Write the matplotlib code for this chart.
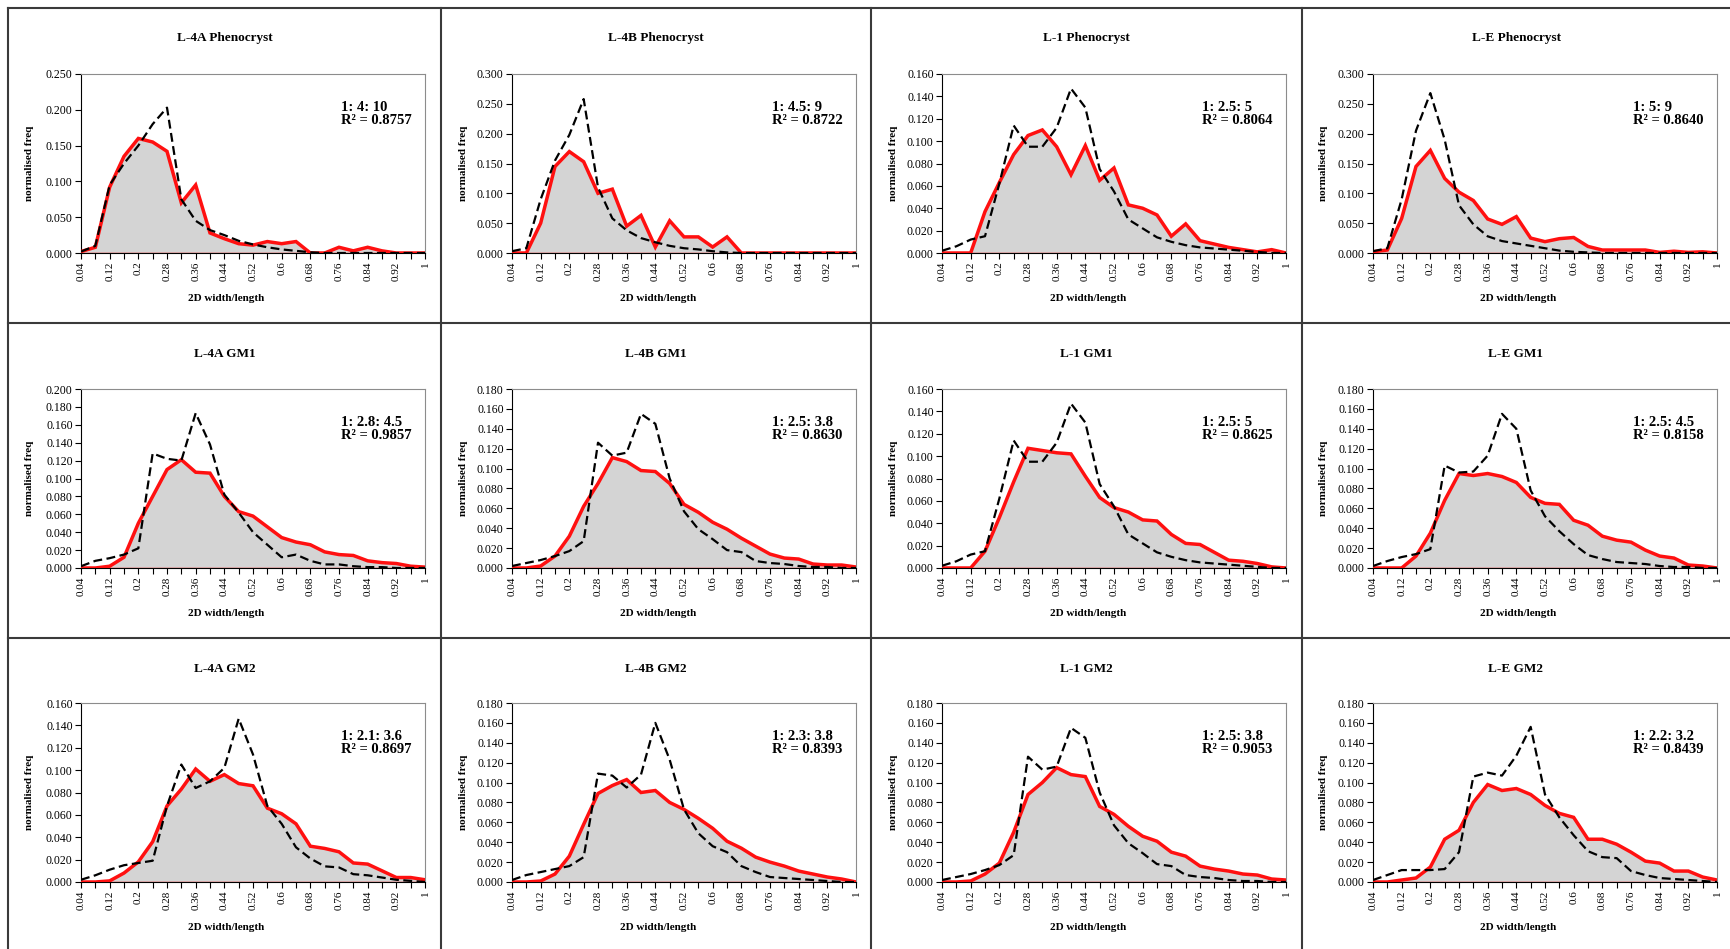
import matplotlib.pyplot as plt
from matplotlib.lines import Line2D

# categories (2D width/length bins)
x_bins = [0.04, 0.08, 0.12, 0.16, 0.20, 0.24, 0.28, 0.32, 0.36, 0.40, 0.44, 0.48, 0.52,
          0.56, 0.60, 0.64, 0.68, 0.72, 0.76, 0.80, 0.84, 0.88, 0.92, 0.96, 1.00]

# measured distributions (red)
l4a_pheno = [0.002, 0.008, 0.092, 0.135, 0.160, 0.155, 0.142, 0.070, 0.095, 0.028, 0.020, 0.013, 0.011,
             0.016, 0.013, 0.016, 0.000, 0.000, 0.008, 0.003, 0.008, 0.003, 0.000, 0.000, 0.000]
l4b_pheno = [0.000, 0.000, 0.050, 0.145, 0.170, 0.153, 0.100, 0.107, 0.045, 0.063, 0.010, 0.054, 0.027,
             0.027, 0.010, 0.027, 0.000, 0.000, 0.000, 0.000, 0.000, 0.000, 0.000, 0.000, 0.000]
l1_pheno = [0.000, 0.000, 0.000, 0.037, 0.063, 0.088, 0.105, 0.110, 0.095, 0.070, 0.096, 0.065, 0.076,
            0.043, 0.040, 0.034, 0.015, 0.026, 0.011, 0.008, 0.005, 0.003, 0.001, 0.003, 0.000]
le_pheno = [0.002, 0.005, 0.058, 0.145, 0.172, 0.125, 0.102, 0.088, 0.057, 0.048, 0.061, 0.025, 0.019,
            0.024, 0.026, 0.011, 0.005, 0.005, 0.005, 0.005, 0.001, 0.003, 0.001, 0.002, 0.000]
l4a_gm1 = [0.000, 0.000, 0.002, 0.012, 0.050, 0.080, 0.110, 0.121, 0.107, 0.106, 0.080, 0.063, 0.058,
           0.046, 0.034, 0.029, 0.026, 0.018, 0.015, 0.014, 0.008, 0.006, 0.005, 0.002, 0.001]
l4b_gm1 = [0.000, 0.000, 0.002, 0.012, 0.032, 0.062, 0.085, 0.111, 0.107, 0.098, 0.097, 0.085, 0.064,
           0.056, 0.046, 0.039, 0.030, 0.022, 0.014, 0.010, 0.009, 0.004, 0.003, 0.003, 0.001]
l1_gm1 = [0.000, 0.000, 0.000, 0.015, 0.045, 0.077, 0.107, 0.105, 0.103, 0.102, 0.082, 0.063, 0.054,
          0.050, 0.043, 0.042, 0.030, 0.022, 0.021, 0.014, 0.007, 0.006, 0.004, 0.001, 0.000]
le_gm1 = [0.000, 0.000, 0.000, 0.012, 0.035, 0.068, 0.095, 0.093, 0.095, 0.092, 0.086, 0.071, 0.065,
          0.064, 0.048, 0.043, 0.032, 0.028, 0.026, 0.018, 0.012, 0.010, 0.003, 0.002, 0.000]
l4a_gm2 = [0.000, 0.000, 0.001, 0.008, 0.018, 0.036, 0.068, 0.083, 0.101, 0.090, 0.096, 0.088, 0.086,
           0.066, 0.061, 0.052, 0.032, 0.030, 0.027, 0.017, 0.016, 0.010, 0.004, 0.004, 0.002]
l4b_gm2 = [0.000, 0.000, 0.001, 0.008, 0.026, 0.058, 0.089, 0.097, 0.103, 0.090, 0.092, 0.080, 0.073,
           0.064, 0.054, 0.041, 0.034, 0.025, 0.020, 0.016, 0.011, 0.008, 0.005, 0.003, 0.000]
l1_gm2 = [0.000, 0.000, 0.001, 0.008, 0.019, 0.050, 0.088, 0.100, 0.115, 0.108, 0.106, 0.076, 0.068,
          0.056, 0.046, 0.041, 0.030, 0.026, 0.016, 0.013, 0.011, 0.008, 0.007, 0.003, 0.002]
le_gm2 = [0.000, 0.000, 0.002, 0.004, 0.015, 0.043, 0.052, 0.080, 0.098, 0.092, 0.094, 0.088, 0.077,
          0.069, 0.065, 0.043, 0.043, 0.038, 0.030, 0.021, 0.019, 0.011, 0.011, 0.005, 0.002]

# modelled distributions (black dashed)
m_4_10 = [0.002, 0.010, 0.095, 0.125, 0.150, 0.180, 0.203, 0.075, 0.045, 0.032, 0.025, 0.017, 0.012,
          0.008, 0.005, 0.003, 0.001, 0.000, 0.000, 0.000, 0.000, 0.000, 0.000, 0.000, 0.000]
m_45_9 = [0.003, 0.008, 0.090, 0.155, 0.198, 0.258, 0.110, 0.058, 0.038, 0.025, 0.018, 0.012, 0.008,
          0.006, 0.003, 0.001, 0.000, 0.000, 0.000, 0.000, 0.000, 0.000, 0.000, 0.000, 0.000]
m_25_5 = [0.002, 0.006, 0.012, 0.015, 0.062, 0.114, 0.095, 0.095, 0.112, 0.147, 0.130, 0.075, 0.055,
          0.030, 0.022, 0.014, 0.010, 0.007, 0.005, 0.004, 0.003, 0.002, 0.001, 0.000, 0.000]
m_5_9 = [0.003, 0.008, 0.090, 0.205, 0.268, 0.190, 0.080, 0.048, 0.028, 0.020, 0.016, 0.012, 0.008,
         0.004, 0.002, 0.001, 0.000, 0.000, 0.000, 0.000, 0.000, 0.000, 0.000, 0.000, 0.000]
m_28_45 = [0.002, 0.008, 0.011, 0.015, 0.022, 0.128, 0.122, 0.120, 0.173, 0.138, 0.082, 0.062, 0.040,
           0.026, 0.012, 0.015, 0.008, 0.004, 0.004, 0.002, 0.001, 0.001, 0.000, 0.000, 0.000]
m_25_38 = [0.002, 0.005, 0.008, 0.012, 0.017, 0.027, 0.126, 0.113, 0.116, 0.155, 0.145, 0.090, 0.057,
           0.039, 0.029, 0.018, 0.016, 0.007, 0.005, 0.004, 0.002, 0.001, 0.001, 0.000, 0.000]
m_25_45 = [0.002, 0.007, 0.011, 0.014, 0.019, 0.103, 0.096, 0.097, 0.113, 0.155, 0.140, 0.078, 0.052,
           0.037, 0.024, 0.013, 0.009, 0.006, 0.005, 0.004, 0.002, 0.001, 0.001, 0.000, 0.000]
m_21_36 = [0.002, 0.006, 0.011, 0.015, 0.017, 0.019, 0.068, 0.105, 0.084, 0.090, 0.102, 0.146, 0.114,
           0.068, 0.052, 0.031, 0.021, 0.014, 0.013, 0.007, 0.006, 0.004, 0.002, 0.001, 0.000]
m_23_38 = [0.002, 0.007, 0.010, 0.013, 0.016, 0.025, 0.109, 0.107, 0.095, 0.108, 0.160, 0.123, 0.073,
           0.049, 0.036, 0.030, 0.016, 0.010, 0.005, 0.004, 0.003, 0.002, 0.001, 0.000, 0.000]
m_22_32 = [0.002, 0.007, 0.012, 0.012, 0.012, 0.013, 0.030, 0.106, 0.110, 0.107, 0.127, 0.156, 0.088,
           0.065, 0.047, 0.031, 0.025, 0.024, 0.011, 0.007, 0.004, 0.003, 0.002, 0.001, 0.000]

titles = ["L-4A Phenocryst", "L-4B Phenocryst", "L-1 Phenocryst", "L-E Phenocryst",
          "L-4A GM1", "L-4B GM1", "L-1 GM1", "L-E GM1",
          "L-4A GM2", "L-4B GM2", "L-1 GM2", "L-E GM2"]
ratios = ["1: 4: 10", "1: 4.5: 9", "1: 2.5: 5", "1: 5: 9",
          "1: 2.8: 4.5", "1: 2.5: 3.8", "1: 2.5: 5", "1: 2.5: 4.5",
          "1: 2.1: 3.6", "1: 2.3: 3.8", "1: 2.5: 3.8", "1: 2.2: 3.2"]
r2 = ["0.8757", "0.8722", "0.8064", "0.8640",
      "0.9857", "0.8630", "0.8625", "0.8158",
      "0.8697", "0.8393", "0.9053", "0.8439"]
measured = [l4a_pheno, l4b_pheno, l1_pheno, le_pheno,
            l4a_gm1, l4b_gm1, l1_gm1, le_gm1,
            l4a_gm2, l4b_gm2, l1_gm2, le_gm2]
modelled = [m_4_10, m_45_9, m_25_5, m_5_9,
            m_28_45, m_25_38, m_25_5, m_25_45,
            m_21_36, m_23_38, m_25_38, m_22_32]
y_max = [0.25, 0.30, 0.16, 0.30,
         0.20, 0.18, 0.16, 0.18,
         0.16, 0.18, 0.18, 0.18]
y_step = [0.05, 0.05, 0.02, 0.05,
          0.02, 0.02, 0.02, 0.02,
          0.02, 0.02, 0.02, 0.02]

plt.rcParams['font.family'] = ['Liberation Serif', 'DejaVu Serif']

W, H = 1730, 949
fig = plt.figure(figsize=(W / 100, H / 100), dpi=100)

panel_left = [8, 441, 871, 1302]
panel_right = [441, 871, 1302, 1730]
ax_left = [81, 512, 942, 1373]
ax_top = [74, 389, 703]
ax_w, ax_h = 344, 179
title_y = [38, 354, 669]

idx = list(range(len(x_bins)))
labels = [f"{v:g}" if i % 2 == 0 else "" for i, v in enumerate(x_bins)]

for k in range(12):
    r, c = divmod(k, 4)
    ax = fig.add_axes([ax_left[c] / W, 1 - (ax_top[r] + ax_h) / H, ax_w / W, ax_h / H])
    ax.fill_between(idx, measured[k], 0, color='#d4d4d4', lw=0, zorder=1)
    ax.plot(idx, measured[k], color='#ff1010', lw=2.5, zorder=3, solid_joinstyle='miter')
    ax.axhline(0, color='#ff1010', lw=1.0, zorder=3)
    ax.plot(idx, modelled[k], color='black', lw=1.6, ls=(0, (4, 2)), zorder=4)

    ax.set_xlim(0, len(x_bins) - 1)
    ax.set_ylim(0, y_max[k])
    n = int(round(y_max[k] / y_step[k]))
    ax.set_yticks([i * y_step[k] for i in range(n + 1)])
    ax.set_yticklabels([f"{i * y_step[k]:.3f}" for i in range(n + 1)], fontsize=8.5)
    ax.set_xticks(idx)
    ax.set_xticklabels(labels, rotation=90, fontsize=8)
    ax.tick_params(direction='out', length=4, width=0.8, pad=2)
    for s in ['top', 'right']:
        ax.spines[s].set_color('#8c8c8c')
        ax.spines[s].set_linewidth(0.8)
    ax.spines['left'].set_linewidth(0.8)
    ax.spines['bottom'].set_linewidth(0.8)

    ax.text(0.755, 0.85, f"{ratios[k]}\nR\u00b2 = {r2[k]}", transform=ax.transAxes,
            ha='left', va='top', fontsize=10.5, fontweight='bold', linespacing=1.0)

    pcx = (panel_left[c] + panel_right[c]) / 2
    fig.text(pcx / W, 1 - title_y[r] / H, titles[k], ha='center', va='center',
             fontsize=9.5, fontweight='bold')
    fig.text((pcx + 2) / W, 1 - (ax_top[r] + ax_h + 46) / H, "2D width/length",
             ha='center', va='center', fontsize=8, fontweight='bold')
    fig.text((panel_left[c] + 22) / W, 1 - (ax_top[r] + ax_h / 2) / H, "normalised freq",
             ha='center', va='center', rotation=90, fontsize=8, fontweight='bold')

# panel borders
bc = '#3a3a3a'
for x in [8, 441, 871, 1302]:
    fig.add_artist(Line2D([x / W, x / W], [0, 1 - 8 / H], color=bc, lw=1.5))
for y in [8, 323, 638]:
    fig.add_artist(Line2D([8 / W, 1], [1 - y / H, 1 - y / H], color=bc, lw=1.5))

fig.savefig('out.png', dpi=100)
